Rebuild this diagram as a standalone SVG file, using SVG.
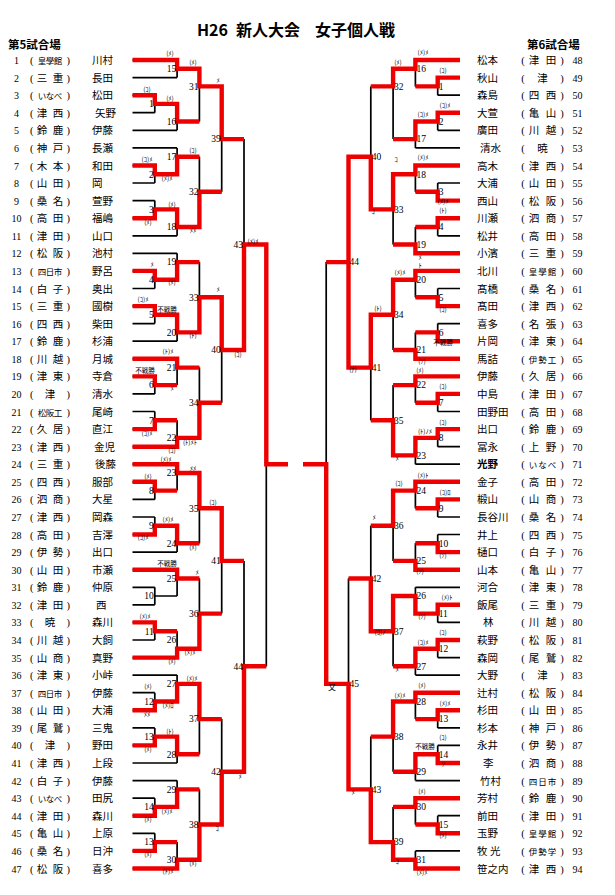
<svg xmlns="http://www.w3.org/2000/svg" width="615" height="895" viewBox="0 0 615 895">
<style>
.bk{fill:none;stroke:#000;stroke-width:1.7}
.rd{fill:none;stroke:#ee0000;stroke-width:4.4;stroke-linejoin:miter}
.t{font-family:"Liberation Serif","Noto Sans CJK JP",serif;font-size:10.5px;fill:#000}
.c{text-anchor:middle}
.s{font-size:8.5px}
.n{font-family:"Liberation Serif",serif;font-size:10px;text-anchor:middle}
.lb{font-family:"Liberation Serif",serif;font-size:9.5px}
.le{text-anchor:end}
.k{font-family:"Noto Sans CJK JP",sans-serif;font-size:6.5px;text-anchor:middle}
.h{font-family:"Noto Sans CJK JP",sans-serif;font-weight:bold}
</style>
<rect width="615" height="895" fill="#fff"/>
<g id="title">
<text class="h" y="36" font-size="16"><tspan x="197">H26</tspan><tspan x="236">新人大会</tspan><tspan x="315">女子個人戦</tspan></text>
<text class="h" x="8" y="49" font-size="11.5">第5試合場</text>
<text class="h" x="527" y="49" font-size="11.5">第6試合場</text>
</g>
<g id="connectors">
<path class="bk" d="M132.5 60H177.1M132.5 77.6H177.1M132.5 95.2H154.8M132.5 112.7H154.8M132.5 130.3H177.1M132.5 147.9H177.1M132.5 165.5H154.8M132.5 183H154.8M132.5 200.6H154.8M132.5 218.2H154.8M132.5 235.8H177.1M132.5 253.3H177.1M132.5 270.9H154.8M132.5 288.5H154.8M132.5 306.1H154.8M132.5 323.6H154.8M132.5 341.2H177.1M132.5 358.8H177.1M132.5 376.4H154.8M132.5 393.9H154.8M132.5 411.5H154.8M132.5 429.1H154.8M132.5 446.7H177.1M132.5 464.2H177.1M132.5 481.8H154.8M132.5 499.4H154.8M132.5 517H154.8M132.5 534.5H154.8M132.5 552.1H177.1M132.5 569.7H177.1M132.5 587.3H154.8M132.5 604.8H154.8M132.5 622.4H154.8M132.5 640H154.8M132.5 657.6H177.1M132.5 675.1H177.1M132.5 692.7H154.8M132.5 710.3H154.8M132.5 727.9H154.8M132.5 745.4H154.8M132.5 763H177.1M132.5 780.6H177.1M132.5 798.2H154.8M132.5 815.7H154.8M132.5 833.3H154.8M132.5 850.9H154.8M132.5 868.5H177.1
M154.8 95.2V112.7M154.8 103.9H177.1M154.8 165.5V183M154.8 174.2H177.1M154.8 200.6V218.2M154.8 209.4H177.1M154.8 270.9V288.5M154.8 279.7H177.1M154.8 306.1V323.6M154.8 314.8H177.1M154.8 376.4V393.9M154.8 385.1H177.1M154.8 411.5V429.1M154.8 420.3H177.1M154.8 481.8V499.4M154.8 490.6H177.1M154.8 517V534.5M154.8 525.7H177.1M154.8 587.3V604.8M154.8 596H177.1M154.8 622.4V640M154.8 631.2H177.1M154.8 692.7V710.3M154.8 701.5H177.1M154.8 727.9V745.4M154.8 736.6H177.1M154.8 798.2V815.7M154.8 806.9H177.1M154.8 833.3V850.9M154.8 842.1H177.1
M177.1 60V77.6M177.1 68.8H199.4M177.1 103.9V130.3M177.1 121.5H199.4M177.1 147.9V174.2M177.1 156.7H199.4M177.1 209.4V235.8M177.1 227H199.4M177.1 253.3V279.7M177.1 262.1H199.4M177.1 314.8V341.2M177.1 332.4H199.4M177.1 358.8V385.1M177.1 367.6H199.4M177.1 420.3V446.7M177.1 437.9H199.4M177.1 464.2V490.6M177.1 473H199.4M177.1 525.7V552.1M177.1 543.3H199.4M177.1 569.7V596M177.1 578.5H199.4M177.1 631.2V657.6M177.1 648.8H199.4M177.1 675.1V701.5M177.1 683.9H199.4M177.1 736.6V763M177.1 754.2H199.4M177.1 780.6V806.9M177.1 789.4H199.4M177.1 842.1V868.5M177.1 859.7H199.4
M199.4 68.8V121.5M199.4 86.4H221.7M199.4 156.7V227M199.4 191.8H221.7M199.4 262.1V332.4M199.4 297.3H221.7M199.4 367.6V437.9M199.4 402.7H221.7M199.4 473V543.3M199.4 508.2H221.7M199.4 578.5V648.8M199.4 613.6H221.7M199.4 683.9V754.2M199.4 719.1H221.7M199.4 789.4V859.7M199.4 824.5H221.7
M221.7 86.4V191.8M221.7 139.1H244M221.7 297.3V402.7M221.7 350H244M221.7 508.2V613.6M221.7 560.9H244M221.7 719.1V824.5M221.7 771.8H244
M244 139.1V350M244 244.5H266.3M244 560.9V771.8M244 666.3H266.3M266.3 244.5V666.3"/>
<path class="bk" d="M460 60H415.4M460 77.6H437.7M460 95.2H437.7M460 112.7H437.7M460 130.3H437.7M460 147.9H415.4M460 165.5H415.4M460 183H437.7M460 200.6H437.7M460 218.2H437.7M460 235.8H437.7M460 253.3H415.4M460 270.9H415.4M460 288.5H437.7M460 306.1H437.7M460 323.6H437.7M460 341.2H437.7M460 358.8H415.4M460 376.4H415.4M460 393.9H437.7M460 411.5H437.7M460 429.1H437.7M460 446.7H437.7M460 464.2H415.4M460 481.8H415.4M460 499.4H437.7M460 517H437.7M460 534.5H437.7M460 552.1H437.7M460 569.7H415.4M460 587.3H415.4M460 604.8H437.7M460 622.4H437.7M460 640H437.7M460 657.6H437.7M460 675.1H415.4M460 692.7H415.4M460 710.3H437.7M460 727.9H437.7M460 745.4H437.7M460 763H437.7M460 780.6H415.4M460 798.2H415.4M460 815.7H437.7M460 833.3H437.7M460 850.9H415.4M460 868.5H415.4
M437.7 77.6V95.2M437.7 86.4H415.4M437.7 112.7V130.3M437.7 121.5H415.4M437.7 183V200.6M437.7 191.8H415.4M437.7 218.2V235.8M437.7 227H415.4M437.7 288.5V306.1M437.7 297.3H415.4M437.7 323.6V341.2M437.7 332.4H415.4M437.7 393.9V411.5M437.7 402.7H415.4M437.7 429.1V446.7M437.7 437.9H415.4M437.7 499.4V517M437.7 508.2H415.4M437.7 534.5V552.1M437.7 543.3H415.4M437.7 604.8V622.4M437.7 613.6H415.4M437.7 640V657.6M437.7 648.8H415.4M437.7 710.3V727.9M437.7 719.1H415.4M437.7 745.4V763M437.7 754.2H415.4M437.7 815.7V833.3M437.7 824.5H415.4
M415.4 60V86.4M415.4 68.8H393.1M415.4 121.5V147.9M415.4 139.1H393.1M415.4 165.5V191.8M415.4 174.2H393.1M415.4 227V253.3M415.4 244.5H393.1M415.4 270.9V297.3M415.4 279.7H393.1M415.4 332.4V358.8M415.4 350H393.1M415.4 376.4V402.7M415.4 385.1H393.1M415.4 437.9V464.2M415.4 455.4H393.1M415.4 481.8V508.2M415.4 490.6H393.1M415.4 543.3V569.7M415.4 560.9H393.1M415.4 587.3V613.6M415.4 596H393.1M415.4 648.8V675.1M415.4 666.3H393.1M415.4 692.7V719.1M415.4 701.5H393.1M415.4 754.2V780.6M415.4 771.8H393.1M415.4 798.2V824.5M415.4 806.9H393.1M415.4 850.9V868.5M415.4 859.7H393.1
M393.1 68.8V139.1M393.1 86.4H370.8M393.1 174.2V244.5M393.1 209.4H370.8M393.1 279.7V350M393.1 314.8H370.8M393.1 385.1V455.4M393.1 420.3H370.8M393.1 490.6V560.9M393.1 525.7H370.8M393.1 596V666.3M393.1 631.2H370.8M393.1 701.5V771.8M393.1 736.6H370.8M393.1 806.9V859.7M393.1 842.1H370.8
M370.8 86.4V209.4M370.8 156.7H348.5M370.8 314.8V420.3M370.8 367.6H348.5M370.8 525.7V631.2M370.8 578.5H348.5M370.8 736.6V842.1M370.8 789.4H348.5
M348.5 156.7V367.6M348.5 262.1H326.2M348.5 578.5V789.4M348.5 683.9H326.2M326.2 262.1V683.9"/>
<path class="rd" d="M132.5 60H177.1V68.8H199.4V86.4H221.7V139.1H244
M132.5 95.2H154.8V103.9H177.1V121.5H199.4
M132.5 165.5H154.8V174.2H177.1V156.7H199.4
M132.5 218.2H154.8V209.4H177.1V227H199.4V191.8H221.7
M132.5 270.9H154.8V279.7H177.1V262.1H199.4
M132.5 306.1H154.8V314.8H177.1V332.4H199.4V297.3H221.7V350H244V244.5H266.3V464.2H288
M132.5 358.8H177.1V367.6H199.4
M132.5 376.4H154.8V385.1H177.1
M132.5 429.1H154.8V420.3H177.1
M132.5 446.7H177.1V437.9H199.4V402.7H221.7
M132.5 464.2H177.1V473H199.4V508.2H221.7V560.9H244
M132.5 481.8H154.8V490.6H177.1
M132.5 534.5H154.8V525.7H177.1V543.3H199.4
M132.5 569.7H177.1V578.5H199.4
M132.5 622.4H154.8V631.2H177.1
M132.5 657.6H177.1V648.8H199.4V613.6H221.7
M132.5 710.3H154.8V701.5H177.1V683.9H199.4V719.1H221.7
M132.5 745.4H154.8V736.6H177.1V754.2H199.4
M132.5 815.7H154.8V806.9H177.1V789.4H199.4
M132.5 850.9H154.8V842.1H177.1
M132.5 868.5H177.1V859.7H199.4V824.5H221.7V771.8H244V666.3H266.3"/>
<path class="rd" d="M460 60H415.4V68.8H393.1V86.4H370.8
M460 77.6H437.7V86.4H415.4
M460 112.7H437.7V121.5H415.4V139.1H393.1
M460 165.5H415.4V174.2H393.1V209.4H370.8V156.7H348.5V262.1
M460 200.6H437.7V191.8H415.4
M460 218.2H437.7V227H415.4
M460 253.3H415.4V244.5H393.1
M460 270.9H415.4V279.7H393.1V314.8H370.8V367.6H348.5V262.1H326.2
M460 306.1H437.7V297.3H415.4
M460 341.2H437.7V332.4H415.4
M460 358.8H415.4V350H393.1
M460 376.4H415.4V385.1H393.1
M460 393.9H437.7V402.7H415.4
M460 429.1H437.7V437.9H415.4V455.4H393.1V420.3H370.8
M460 481.8H415.4V490.6H393.1V525.7H370.8
M460 499.4H437.7V508.2H415.4
M460 552.1H437.7V543.3H415.4
M460 569.7H415.4V560.9H393.1
M460 604.8H437.7V613.6H415.4V596H393.1V631.2H370.8V578.5H348.5
M460 640H437.7V648.8H415.4V666.3H393.1
M460 692.7H415.4V701.5H393.1V736.6H370.8
M460 710.3H437.7V719.1H415.4
M460 763H437.7V754.2H415.4V771.8H393.1
M460 798.2H415.4V806.9H393.1
M460 833.3H437.7V824.5H415.4
M460 868.5H415.4V859.7H393.1V842.1H370.8V789.4H348.5V683.9H326.2V464.2H303"/>
</g>
<g id="match-numbers" class="lb">
<g class="le">
<text x="153.8" y="107.2">1</text><text x="153.8" y="177.5">2</text><text x="153.8" y="212.7">3</text><text x="153.8" y="283">4</text><text x="153.8" y="318.1">5</text><text x="153.8" y="388.4">6</text><text x="153.8" y="423.6">7</text><text x="153.8" y="493.9">8</text><text x="153.8" y="529">9</text><text x="153.8" y="599.3">10</text><text x="153.8" y="634.5">11</text><text x="153.8" y="704.8">12</text><text x="153.8" y="739.9">13</text><text x="153.8" y="810.2">14</text><text x="153.8" y="845.4">13</text>
<text x="176.2" y="72.1">15</text><text x="176.2" y="124.8">16</text><text x="176.2" y="160">17</text><text x="176.2" y="230.3">18</text><text x="176.2" y="265.4">19</text><text x="176.2" y="335.7">20</text><text x="176.2" y="370.9">21</text><text x="176.2" y="441.2">22</text><text x="176.2" y="476.3">23</text><text x="176.2" y="546.6">24</text><text x="176.2" y="581.8">25</text><text x="176.2" y="643.3">26</text><text x="176.2" y="687.2">27</text><text x="176.2" y="757.5">28</text><text x="176.2" y="792.7">29</text><text x="176.2" y="863">30</text>
<text x="198.5" y="89.7">31</text><text x="198.5" y="195.1">32</text><text x="198.5" y="300.6">33</text><text x="198.5" y="406">34</text><text x="198.5" y="511.5">35</text><text x="198.5" y="616.9">36</text><text x="198.5" y="722.4">37</text><text x="198.5" y="827.8">38</text>
<text x="220.8" y="142.4">39</text><text x="220.8" y="353.3">40</text><text x="220.8" y="564.2">41</text><text x="220.8" y="775.1">42</text>
<text x="243.1" y="247.8">43</text><text x="243.1" y="669.6">44</text>
</g>
<text x="438.7" y="89.7">1</text><text x="438.7" y="124.8">2</text><text x="438.7" y="195.1">3</text><text x="438.7" y="230.3">4</text><text x="438.7" y="300.6">5</text><text x="438.7" y="335.7">6</text><text x="438.7" y="406">7</text><text x="438.7" y="441.2">8</text><text x="438.7" y="511.5">9</text><text x="438.7" y="546.6">10</text><text x="438.7" y="616.9">11</text><text x="438.7" y="652.1">12</text><text x="438.7" y="722.4">13</text><text x="438.7" y="757.5">14</text><text x="438.7" y="827.8">15</text>
<text x="416.4" y="72.1">16</text><text x="416.4" y="142.4">17</text><text x="416.4" y="177.5">18</text><text x="416.4" y="247.8">19</text><text x="416.4" y="283">20</text><text x="416.4" y="353.3">21</text><text x="416.4" y="388.4">22</text><text x="416.4" y="458.7">23</text><text x="416.4" y="493.9">24</text><text x="416.4" y="564.2">25</text><text x="416.4" y="599.3">26</text><text x="416.4" y="669.6">27</text><text x="416.4" y="704.8">28</text><text x="416.4" y="775.1">29</text><text x="416.4" y="810.2">30</text><text x="416.4" y="863">31</text>
<text x="394.1" y="89.7">32</text><text x="394.1" y="212.7">33</text><text x="394.1" y="318.1">34</text><text x="394.1" y="423.6">35</text><text x="394.1" y="529">36</text><text x="394.1" y="634.5">37</text><text x="394.1" y="739.9">38</text><text x="394.1" y="845.4">39</text>
<text x="371.8" y="160">40</text><text x="371.8" y="370.9">41</text><text x="371.8" y="581.8">42</text><text x="371.8" y="792.7">43</text>
<text x="349.5" y="265.4">44</text><text x="349.5" y="687.2">45</text>
</g>
<g id="marks" class="k">
<text x="170" y="56">(ﾒ)</text><text x="147" y="92">(ｺ)</text><text x="170" y="101">(ﾒ)</text><text x="193" y="65">(ﾒ)</text><text x="218" y="83">ﾒ</text><text x="193" y="153">(ｺ)</text><text x="147" y="162">(ｺ)ﾒ</text><text x="167" y="181">(ﾒ)ﾒ</text><text x="172" y="207">(ﾒ)</text><text x="148" y="225">(ﾒ)</text><text x="193" y="233">ﾒﾒ</text><text x="253" y="244">(ﾒ)ﾒ</text><text x="152" y="267">ﾒ</text><text x="172" y="285">(ﾒ)</text><text x="218" y="292">ﾒ</text><text x="143" y="302">(ｺ)ﾒ</text><text x="167" y="312">不戦勝</text><text x="193" y="338">(ﾄ)</text><text x="238" y="357">(ｺ)</text><text x="168" y="354">(ﾄ)ﾒ</text><text x="145" y="373">不戦勝</text><text x="172" y="391">ﾒ</text><text x="147" y="436">(ｺ)ﾒ</text><text x="190" y="444.5">(ﾄ)ﾒﾄ</text><text x="172" y="453">(ｺ)</text><text x="166" y="462">(ﾒ)ﾒ</text><text x="193" y="471">ﾒﾒ</text><text x="148" y="479">(ﾒ)</text><text x="213" y="505">(ｺ)</text><text x="168" y="522">(ﾒ)ﾒ</text><text x="143" y="540">(ｺ)ﾒ</text><text x="193" y="550">(ﾒ)</text><text x="167" y="566">不戦勝</text><text x="197" y="575">ﾒ</text><text x="145" y="619">(ﾒ)ﾒ</text><text x="190" y="655">(ﾒ)ﾒ</text><text x="172" y="664">(ﾒ)</text><text x="192" y="681">(ﾒ)ﾒ</text><text x="148" y="689">(ﾒ)</text><text x="168" y="708">(ﾒ)ﾛ</text><text x="147" y="717">ﾒﾒ</text><text x="170" y="734">(ﾄ)</text><text x="148" y="752">(ﾒ)</text><text x="240" y="779">ﾒ</text><text x="167" y="814">(ﾒ)ﾒ</text><text x="148" y="822">(ﾒ)</text><text x="217" y="831">ｺ</text><text x="148" y="857">(ﾒ)</text><text x="193" y="866">(ﾒ)</text><text x="168" y="874">(ﾄ)ﾒ</text>
<text x="423" y="55">(ﾒ)ﾒ</text><text x="398" y="65">(ﾒ)</text><text x="443" y="73">(ｺ)</text><text x="445" y="108">(ｺ)ﾒ</text><text x="423" y="117">(ｺ)ﾒ</text><text x="423" y="160">(ﾒ)ﾒ</text><text x="396" y="162">ｺ</text><text x="443" y="203.5">(ﾒ)ﾒ</text><text x="443" y="212.5">(ﾄ)</text><text x="373" y="214">ｺ</text><text x="420" y="259.5">ﾒ</text><text x="420" y="268">ﾄ</text><text x="400" y="275">(ﾒ)ﾒ</text><text x="378" y="311">(ﾄ)</text><text x="443" y="312">(ｺ)</text><text x="443" y="345">不戦勝</text><text x="422" y="363.5">(ｿ)</text><text x="420" y="373">(ﾒ)</text><text x="353" y="372">(ﾅ)</text><text x="443" y="389">(ｺ)</text><text x="443" y="425">(ｺ)</text><text x="425" y="434">(ﾄ)ﾉﾒ</text><text x="397" y="461">ﾒ</text><text x="423" y="478">(ﾒ)ﾄ</text><text x="399" y="486">(ｺ)</text><text x="445" y="495">(ｺ)ﾛ</text><text x="374" y="520">ﾒ</text><text x="443" y="558">(ｿ)</text><text x="420" y="574">(ｿ)</text><text x="447" y="600">(ﾒ)ﾄ</text><text x="422" y="619">(ｿ)</text><text x="380" y="635">(ｺ)ﾉ</text><text x="443" y="635">(ｺ)</text><text x="423" y="645">(ｺ)ﾒ</text><text x="397" y="672">ﾒ</text><text x="332" y="690" font-size="8">又</text><text x="422" y="688">(ﾒ)</text><text x="400" y="698">(ﾒ)ﾒ</text><text x="445" y="706">(ﾒ)ﾒ</text><text x="443" y="740">(ｺ)</text><text x="425" y="749">不戦勝</text><text x="443" y="767">ｿ</text><text x="422" y="794">(ﾒ)</text><text x="353" y="795">ﾒ</text><text x="443" y="838">(ﾒ)</text><text x="397" y="864">ｺ</text><text x="422" y="875">(ﾒ)ﾒ</text>
</g>
<g id="left-players">
<g id="p1" transform="translate(0,60)"><text class="n" x="16.5" y="4">1</text><text class="t c" y="4"><tspan x="31.7">(</tspan><tspan class="s" x="42 50 58">皇學館</tspan><tspan x="68.3">)</tspan></text><text class="t" x="92" y="4">川村</text></g>
<g id="p2" transform="translate(0,77.6)"><text class="n" x="16.5" y="4">2</text><text class="t c" y="4"><tspan x="31.7">(</tspan><tspan x="42 58">三重</tspan><tspan x="68.3">)</tspan></text><text class="t" x="92" y="4">長田</text></g>
<g id="p3" transform="translate(0,95.2)"><text class="n" x="16.5" y="4">3</text><text class="t c" y="4"><tspan x="31.7">(</tspan><tspan class="s" x="42 50 58">いなべ</tspan><tspan x="68.3">)</tspan></text><text class="t" x="92" y="4">松田</text></g>
<g id="p4" transform="translate(0,112.7)"><text class="n" x="16.5" y="4">4</text><text class="t c" y="4"><tspan x="31.7">(</tspan><tspan x="42 58">津西</tspan><tspan x="68.3">)</tspan></text><text class="t" x="95" y="4">矢野</text></g>
<g id="p5" transform="translate(0,130.3)"><text class="n" x="16.5" y="4">5</text><text class="t c" y="4"><tspan x="31.7">(</tspan><tspan x="42 58">鈴鹿</tspan><tspan x="68.3">)</tspan></text><text class="t" x="92" y="4">伊藤</text></g>
<g id="p6" transform="translate(0,147.9)"><text class="n" x="16.5" y="4">6</text><text class="t c" y="4"><tspan x="31.7">(</tspan><tspan x="42 58">神戸</tspan><tspan x="68.3">)</tspan></text><text class="t" x="92" y="4">長瀬</text></g>
<g id="p7" transform="translate(0,165.5)"><text class="n" x="16.5" y="4">7</text><text class="t c" y="4"><tspan x="31.7">(</tspan><tspan x="42 58">木本</tspan><tspan x="68.3">)</tspan></text><text class="t" x="92" y="4">和田</text></g>
<g id="p8" transform="translate(0,183)"><text class="n" x="16.5" y="4">8</text><text class="t c" y="4"><tspan x="31.7">(</tspan><tspan x="42 58">山田</tspan><tspan x="68.3">)</tspan></text><text class="t" x="92" y="4">岡</text></g>
<g id="p9" transform="translate(0,200.6)"><text class="n" x="16.5" y="4">9</text><text class="t c" y="4"><tspan x="31.7">(</tspan><tspan x="42 58">桑名</tspan><tspan x="68.3">)</tspan></text><text class="t" x="92" y="4">萱野</text></g>
<g id="p10" transform="translate(0,218.2)"><text class="n" x="16.5" y="4">10</text><text class="t c" y="4"><tspan x="31.7">(</tspan><tspan x="42 58">高田</tspan><tspan x="68.3">)</tspan></text><text class="t" x="92" y="4">福嶋</text></g>
<g id="p11" transform="translate(0,235.8)"><text class="n" x="16.5" y="4">11</text><text class="t c" y="4"><tspan x="31.7">(</tspan><tspan x="42 58">津田</tspan><tspan x="68.3">)</tspan></text><text class="t" x="92" y="4">山口</text></g>
<g id="p12" transform="translate(0,253.3)"><text class="n" x="16.5" y="4">12</text><text class="t c" y="4"><tspan x="31.7">(</tspan><tspan x="42 58">松阪</tspan><tspan x="68.3">)</tspan></text><text class="t" x="92" y="4">池村</text></g>
<g id="p13" transform="translate(0,270.9)"><text class="n" x="16.5" y="4">13</text><text class="t c" y="4"><tspan x="31.7">(</tspan><tspan class="s" x="42 50 58">四日市</tspan><tspan x="68.3">)</tspan></text><text class="t" x="92" y="4">野呂</text></g>
<g id="p14" transform="translate(0,288.5)"><text class="n" x="16.5" y="4">14</text><text class="t c" y="4"><tspan x="31.7">(</tspan><tspan x="42 58">白子</tspan><tspan x="68.3">)</tspan></text><text class="t" x="92" y="4">奥出</text></g>
<g id="p15" transform="translate(0,306.1)"><text class="n" x="16.5" y="4">15</text><text class="t c" y="4"><tspan x="31.7">(</tspan><tspan x="42 58">三重</tspan><tspan x="68.3">)</tspan></text><text class="t" x="92" y="4">國樹</text></g>
<g id="p16" transform="translate(0,323.6)"><text class="n" x="16.5" y="4">16</text><text class="t c" y="4"><tspan x="31.7">(</tspan><tspan x="42 58">四西</tspan><tspan x="68.3">)</tspan></text><text class="t" x="92" y="4">柴田</text></g>
<g id="p17" transform="translate(0,341.2)"><text class="n" x="16.5" y="4">17</text><text class="t c" y="4"><tspan x="31.7">(</tspan><tspan x="42 58">鈴鹿</tspan><tspan x="68.3">)</tspan></text><text class="t" x="92" y="4">杉浦</text></g>
<g id="p18" transform="translate(0,358.8)"><text class="n" x="16.5" y="4">18</text><text class="t c" y="4"><tspan x="31.7">(</tspan><tspan x="42 58">川越</tspan><tspan x="68.3">)</tspan></text><text class="t" x="92" y="4">月城</text></g>
<g id="p19" transform="translate(0,376.4)"><text class="n" x="16.5" y="4">19</text><text class="t c" y="4"><tspan x="31.7">(</tspan><tspan x="42 58">津東</tspan><tspan x="68.3">)</tspan></text><text class="t" x="92" y="4">寺倉</text></g>
<g id="p20" transform="translate(0,393.9)"><text class="n" x="16.5" y="4">20</text><text class="t c" y="4"><tspan x="31.7">(</tspan><tspan x="50">津</tspan><tspan x="68.3">)</tspan></text><text class="t" x="92" y="4">清水</text></g>
<g id="p21" transform="translate(0,411.5)"><text class="n" x="16.5" y="4">21</text><text class="t c" y="4"><tspan x="31.7">(</tspan><tspan class="s" x="42 50 58">松阪工</tspan><tspan x="68.3">)</tspan></text><text class="t" x="92" y="4">尾崎</text></g>
<g id="p22" transform="translate(0,429.1)"><text class="n" x="16.5" y="4">22</text><text class="t c" y="4"><tspan x="31.7">(</tspan><tspan x="42 58">久居</tspan><tspan x="68.3">)</tspan></text><text class="t" x="92" y="4">直江</text></g>
<g id="p23" transform="translate(0,446.7)"><text class="n" x="16.5" y="4">23</text><text class="t c" y="4"><tspan x="31.7">(</tspan><tspan x="42 58">津西</tspan><tspan x="68.3">)</tspan></text><text class="t" x="94" y="4">金児</text></g>
<g id="p24" transform="translate(0,464.2)"><text class="n" x="16.5" y="4">24</text><text class="t c" y="4"><tspan x="31.7">(</tspan><tspan x="42 58">三重</tspan><tspan x="68.3">)</tspan></text><text class="t" x="95" y="4">後藤</text></g>
<g id="p25" transform="translate(0,481.8)"><text class="n" x="16.5" y="4">25</text><text class="t c" y="4"><tspan x="31.7">(</tspan><tspan x="42 58">四西</tspan><tspan x="68.3">)</tspan></text><text class="t" x="92" y="4">服部</text></g>
<g id="p26" transform="translate(0,499.4)"><text class="n" x="16.5" y="4">26</text><text class="t c" y="4"><tspan x="31.7">(</tspan><tspan x="42 58">泗商</tspan><tspan x="68.3">)</tspan></text><text class="t" x="92" y="4">大星</text></g>
<g id="p27" transform="translate(0,517)"><text class="n" x="16.5" y="4">27</text><text class="t c" y="4"><tspan x="31.7">(</tspan><tspan x="42 58">津西</tspan><tspan x="68.3">)</tspan></text><text class="t" x="92" y="4">岡森</text></g>
<g id="p28" transform="translate(0,534.5)"><text class="n" x="16.5" y="4">28</text><text class="t c" y="4"><tspan x="31.7">(</tspan><tspan x="42 58">高田</tspan><tspan x="68.3">)</tspan></text><text class="t" x="92" y="4">吉澤</text></g>
<g id="p29" transform="translate(0,552.1)"><text class="n" x="16.5" y="4">29</text><text class="t c" y="4"><tspan x="31.7">(</tspan><tspan x="42 58">伊勢</tspan><tspan x="68.3">)</tspan></text><text class="t" x="92" y="4">出口</text></g>
<g id="p30" transform="translate(0,569.7)"><text class="n" x="16.5" y="4">30</text><text class="t c" y="4"><tspan x="31.7">(</tspan><tspan x="42 58">山田</tspan><tspan x="68.3">)</tspan></text><text class="t" x="92" y="4">市瀬</text></g>
<g id="p31" transform="translate(0,587.3)"><text class="n" x="16.5" y="4">31</text><text class="t c" y="4"><tspan x="31.7">(</tspan><tspan x="42 58">鈴鹿</tspan><tspan x="68.3">)</tspan></text><text class="t" x="92" y="4">仲原</text></g>
<g id="p32" transform="translate(0,604.8)"><text class="n" x="16.5" y="4">32</text><text class="t c" y="4"><tspan x="31.7">(</tspan><tspan x="42 58">津田</tspan><tspan x="68.3">)</tspan></text><text class="t" x="96" y="4">西</text></g>
<g id="p33" transform="translate(0,622.4)"><text class="n" x="16.5" y="4">33</text><text class="t c" y="4"><tspan x="31.7">(</tspan><tspan x="50">暁</tspan><tspan x="68.3">)</tspan></text><text class="t" x="92" y="4">森川</text></g>
<g id="p34" transform="translate(0,640)"><text class="n" x="16.5" y="4">34</text><text class="t c" y="4"><tspan x="31.7">(</tspan><tspan x="42 58">川越</tspan><tspan x="68.3">)</tspan></text><text class="t" x="92" y="4">大飼</text></g>
<g id="p35" transform="translate(0,657.6)"><text class="n" x="16.5" y="4">35</text><text class="t c" y="4"><tspan x="31.7">(</tspan><tspan x="42 58">山商</tspan><tspan x="68.3">)</tspan></text><text class="t" x="92" y="4">真野</text></g>
<g id="p36" transform="translate(0,675.1)"><text class="n" x="16.5" y="4">36</text><text class="t c" y="4"><tspan x="31.7">(</tspan><tspan x="42 58">津東</tspan><tspan x="68.3">)</tspan></text><text class="t" x="92" y="4">小峠</text></g>
<g id="p37" transform="translate(0,692.7)"><text class="n" x="16.5" y="4">37</text><text class="t c" y="4"><tspan x="31.7">(</tspan><tspan class="s" x="42 50 58">四日市</tspan><tspan x="68.3">)</tspan></text><text class="t" x="92" y="4">伊藤</text></g>
<g id="p38" transform="translate(0,710.3)"><text class="n" x="16.5" y="4">38</text><text class="t c" y="4"><tspan x="31.7">(</tspan><tspan x="42 58">山田</tspan><tspan x="68.3">)</tspan></text><text class="t" x="92" y="4">大浦</text></g>
<g id="p39" transform="translate(0,727.9)"><text class="n" x="16.5" y="4">39</text><text class="t c" y="4"><tspan x="31.7">(</tspan><tspan x="42 58">尾鷲</tspan><tspan x="68.3">)</tspan></text><text class="t" x="92" y="4">三鬼</text></g>
<g id="p40" transform="translate(0,745.4)"><text class="n" x="16.5" y="4">40</text><text class="t c" y="4"><tspan x="31.7">(</tspan><tspan x="50">津</tspan><tspan x="68.3">)</tspan></text><text class="t" x="92" y="4">野田</text></g>
<g id="p41" transform="translate(0,763)"><text class="n" x="16.5" y="4">41</text><text class="t c" y="4"><tspan x="31.7">(</tspan><tspan x="42 58">津西</tspan><tspan x="68.3">)</tspan></text><text class="t" x="92" y="4">上段</text></g>
<g id="p42" transform="translate(0,780.6)"><text class="n" x="16.5" y="4">42</text><text class="t c" y="4"><tspan x="31.7">(</tspan><tspan x="42 58">白子</tspan><tspan x="68.3">)</tspan></text><text class="t" x="92" y="4">伊藤</text></g>
<g id="p43" transform="translate(0,798.2)"><text class="n" x="16.5" y="4">43</text><text class="t c" y="4"><tspan x="31.7">(</tspan><tspan class="s" x="42 50 58">いなべ</tspan><tspan x="68.3">)</tspan></text><text class="t" x="92" y="4">田尻</text></g>
<g id="p44" transform="translate(0,815.7)"><text class="n" x="16.5" y="4">44</text><text class="t c" y="4"><tspan x="31.7">(</tspan><tspan x="42 58">津田</tspan><tspan x="68.3">)</tspan></text><text class="t" x="92" y="4">森川</text></g>
<g id="p45" transform="translate(0,833.3)"><text class="n" x="16.5" y="4">45</text><text class="t c" y="4"><tspan x="31.7">(</tspan><tspan x="42 58">亀山</tspan><tspan x="68.3">)</tspan></text><text class="t" x="92" y="4">上原</text></g>
<g id="p46" transform="translate(0,850.9)"><text class="n" x="16.5" y="4">46</text><text class="t c" y="4"><tspan x="31.7">(</tspan><tspan x="42 58">桑名</tspan><tspan x="68.3">)</tspan></text><text class="t" x="92" y="4">日沖</text></g>
<g id="p47" transform="translate(0,868.5)"><text class="n" x="16.5" y="4">47</text><text class="t c" y="4"><tspan x="31.7">(</tspan><tspan x="42 58">松阪</tspan><tspan x="68.3">)</tspan></text><text class="t" x="92" y="4">喜多</text></g>
</g>
<g id="right-players">
<g id="p48" transform="translate(0,60)"><text class="t" x="477" y="4">松本</text><text class="t c" y="4"><tspan x="523">(</tspan><tspan x="534 551">津田</tspan><tspan x="562">)</tspan></text><text class="n" x="577.5" y="4">48</text></g>
<g id="p49" transform="translate(0,77.6)"><text class="t" x="477" y="4">秋山</text><text class="t c" y="4"><tspan x="523">(</tspan><tspan x="542.5">津</tspan><tspan x="562">)</tspan></text><text class="n" x="577.5" y="4">49</text></g>
<g id="p50" transform="translate(0,95.2)"><text class="t" x="477" y="4">森島</text><text class="t c" y="4"><tspan x="523">(</tspan><tspan x="534 551">四西</tspan><tspan x="562">)</tspan></text><text class="n" x="577.5" y="4">50</text></g>
<g id="p51" transform="translate(0,112.7)"><text class="t" x="477" y="4">大萱</text><text class="t c" y="4"><tspan x="523">(</tspan><tspan x="534 551">亀山</tspan><tspan x="562">)</tspan></text><text class="n" x="577.5" y="4">51</text></g>
<g id="p52" transform="translate(0,130.3)"><text class="t" x="477" y="4">廣田</text><text class="t c" y="4"><tspan x="523">(</tspan><tspan x="534 551">川越</tspan><tspan x="562">)</tspan></text><text class="n" x="577.5" y="4">52</text></g>
<g id="p53" transform="translate(0,147.9)"><text class="t" x="480" y="4">清水</text><text class="t c" y="4"><tspan x="523">(</tspan><tspan x="542.5">暁</tspan><tspan x="562">)</tspan></text><text class="n" x="577.5" y="4">53</text></g>
<g id="p54" transform="translate(0,165.5)"><text class="t" x="477" y="4">高木</text><text class="t c" y="4"><tspan x="523">(</tspan><tspan x="534 551">津西</tspan><tspan x="562">)</tspan></text><text class="n" x="577.5" y="4">54</text></g>
<g id="p55" transform="translate(0,183)"><text class="t" x="477" y="4">大浦</text><text class="t c" y="4"><tspan x="523">(</tspan><tspan x="534 551">山田</tspan><tspan x="562">)</tspan></text><text class="n" x="577.5" y="4">55</text></g>
<g id="p56" transform="translate(0,200.6)"><text class="t" x="477" y="4">西山</text><text class="t c" y="4"><tspan x="523">(</tspan><tspan x="534 551">松阪</tspan><tspan x="562">)</tspan></text><text class="n" x="577.5" y="4">56</text></g>
<g id="p57" transform="translate(0,218.2)"><text class="t" x="477" y="4">川瀬</text><text class="t c" y="4"><tspan x="523">(</tspan><tspan x="534 551">泗商</tspan><tspan x="562">)</tspan></text><text class="n" x="577.5" y="4">57</text></g>
<g id="p58" transform="translate(0,235.8)"><text class="t" x="477" y="4">松井</text><text class="t c" y="4"><tspan x="523">(</tspan><tspan x="534 551">高田</tspan><tspan x="562">)</tspan></text><text class="n" x="577.5" y="4">58</text></g>
<g id="p59" transform="translate(0,253.3)"><text class="t" x="477" y="4">小濱</text><text class="t c" y="4"><tspan x="523">(</tspan><tspan x="534 551">三重</tspan><tspan x="562">)</tspan></text><text class="n" x="577.5" y="4">59</text></g>
<g id="p60" transform="translate(0,270.9)"><text class="t" x="477" y="4">北川</text><text class="t c" y="4"><tspan x="523">(</tspan><tspan class="s" x="533 542.5 552">皇學館</tspan><tspan x="562">)</tspan></text><text class="n" x="577.5" y="4">60</text></g>
<g id="p61" transform="translate(0,288.5)"><text class="t" x="477" y="4">髙橋</text><text class="t c" y="4"><tspan x="523">(</tspan><tspan x="534 551">桑名</tspan><tspan x="562">)</tspan></text><text class="n" x="577.5" y="4">61</text></g>
<g id="p62" transform="translate(0,306.1)"><text class="t" x="477" y="4">髙田</text><text class="t c" y="4"><tspan x="523">(</tspan><tspan x="534 551">津西</tspan><tspan x="562">)</tspan></text><text class="n" x="577.5" y="4">62</text></g>
<g id="p63" transform="translate(0,323.6)"><text class="t" x="477" y="4">喜多</text><text class="t c" y="4"><tspan x="523">(</tspan><tspan x="534 551">名張</tspan><tspan x="562">)</tspan></text><text class="n" x="577.5" y="4">63</text></g>
<g id="p64" transform="translate(0,341.2)"><text class="t" x="477" y="4">片岡</text><text class="t c" y="4"><tspan x="523">(</tspan><tspan x="534 551">津東</tspan><tspan x="562">)</tspan></text><text class="n" x="577.5" y="4">64</text></g>
<g id="p65" transform="translate(0,358.8)"><text class="t" x="477" y="4">馬詰</text><text class="t c" y="4"><tspan x="523">(</tspan><tspan class="s" x="533 542.5 552">伊勢工</tspan><tspan x="562">)</tspan></text><text class="n" x="577.5" y="4">65</text></g>
<g id="p66" transform="translate(0,376.4)"><text class="t" x="477" y="4">伊藤</text><text class="t c" y="4"><tspan x="523">(</tspan><tspan x="534 551">久居</tspan><tspan x="562">)</tspan></text><text class="n" x="577.5" y="4">66</text></g>
<g id="p67" transform="translate(0,393.9)"><text class="t" x="477" y="4">中島</text><text class="t c" y="4"><tspan x="523">(</tspan><tspan x="534 551">津田</tspan><tspan x="562">)</tspan></text><text class="n" x="577.5" y="4">67</text></g>
<g id="p68" transform="translate(0,411.5)"><text class="t" x="477" y="4">田野田</text><text class="t c" y="4"><tspan x="523">(</tspan><tspan x="534 551">高田</tspan><tspan x="562">)</tspan></text><text class="n" x="577.5" y="4">68</text></g>
<g id="p69" transform="translate(0,429.1)"><text class="t" x="477" y="4">出口</text><text class="t c" y="4"><tspan x="523">(</tspan><tspan x="534 551">鈴鹿</tspan><tspan x="562">)</tspan></text><text class="n" x="577.5" y="4">69</text></g>
<g id="p70" transform="translate(0,446.7)"><text class="t" x="477" y="4">冨永</text><text class="t c" y="4"><tspan x="523">(</tspan><tspan x="534 551">上野</tspan><tspan x="562">)</tspan></text><text class="n" x="577.5" y="4">70</text></g>
<g id="p71" transform="translate(0,464.2)"><text class="t" x="477" y="4" font-weight="bold">光野</text><text class="t c" y="4"><tspan x="523">(</tspan><tspan class="s" x="533 542.5 552">いなべ</tspan><tspan x="562">)</tspan></text><text class="n" x="577.5" y="4">71</text></g>
<g id="p72" transform="translate(0,481.8)"><text class="t" x="477" y="4">金子</text><text class="t c" y="4"><tspan x="523">(</tspan><tspan x="534 551">高田</tspan><tspan x="562">)</tspan></text><text class="n" x="577.5" y="4">72</text></g>
<g id="p73" transform="translate(0,499.4)"><text class="t" x="477" y="4">椴山</text><text class="t c" y="4"><tspan x="523">(</tspan><tspan x="534 551">山商</tspan><tspan x="562">)</tspan></text><text class="n" x="577.5" y="4">73</text></g>
<g id="p74" transform="translate(0,517)"><text class="t" x="477" y="4">長谷川</text><text class="t c" y="4"><tspan x="523">(</tspan><tspan x="534 551">桑名</tspan><tspan x="562">)</tspan></text><text class="n" x="577.5" y="4">74</text></g>
<g id="p75" transform="translate(0,534.5)"><text class="t" x="477" y="4">井上</text><text class="t c" y="4"><tspan x="523">(</tspan><tspan x="534 551">四西</tspan><tspan x="562">)</tspan></text><text class="n" x="577.5" y="4">75</text></g>
<g id="p76" transform="translate(0,552.1)"><text class="t" x="477" y="4">樋口</text><text class="t c" y="4"><tspan x="523">(</tspan><tspan x="534 551">白子</tspan><tspan x="562">)</tspan></text><text class="n" x="577.5" y="4">76</text></g>
<g id="p77" transform="translate(0,569.7)"><text class="t" x="477" y="4">山本</text><text class="t c" y="4"><tspan x="523">(</tspan><tspan x="534 551">亀山</tspan><tspan x="562">)</tspan></text><text class="n" x="577.5" y="4">77</text></g>
<g id="p78" transform="translate(0,587.3)"><text class="t" x="477" y="4">河合</text><text class="t c" y="4"><tspan x="523">(</tspan><tspan x="534 551">津東</tspan><tspan x="562">)</tspan></text><text class="n" x="577.5" y="4">78</text></g>
<g id="p79" transform="translate(0,604.8)"><text class="t" x="477" y="4">飯尾</text><text class="t c" y="4"><tspan x="523">(</tspan><tspan x="534 551">三重</tspan><tspan x="562">)</tspan></text><text class="n" x="577.5" y="4">79</text></g>
<g id="p80" transform="translate(0,622.4)"><text class="t" x="483" y="4">林</text><text class="t c" y="4"><tspan x="523">(</tspan><tspan x="534 551">川越</tspan><tspan x="562">)</tspan></text><text class="n" x="577.5" y="4">80</text></g>
<g id="p81" transform="translate(0,640)"><text class="t" x="477" y="4">萩野</text><text class="t c" y="4"><tspan x="523">(</tspan><tspan x="534 551">松阪</tspan><tspan x="562">)</tspan></text><text class="n" x="577.5" y="4">81</text></g>
<g id="p82" transform="translate(0,657.6)"><text class="t" x="477" y="4">森岡</text><text class="t c" y="4"><tspan x="523">(</tspan><tspan x="534 551">尾鷲</tspan><tspan x="562">)</tspan></text><text class="n" x="577.5" y="4">82</text></g>
<g id="p83" transform="translate(0,675.1)"><text class="t" x="477" y="4">大野</text><text class="t c" y="4"><tspan x="523">(</tspan><tspan x="542.5">津</tspan><tspan x="562">)</tspan></text><text class="n" x="577.5" y="4">83</text></g>
<g id="p84" transform="translate(0,692.7)"><text class="t" x="477" y="4">辻村</text><text class="t c" y="4"><tspan x="523">(</tspan><tspan x="534 551">松阪</tspan><tspan x="562">)</tspan></text><text class="n" x="577.5" y="4">84</text></g>
<g id="p85" transform="translate(0,710.3)"><text class="t" x="477" y="4">杉田</text><text class="t c" y="4"><tspan x="523">(</tspan><tspan x="534 551">山田</tspan><tspan x="562">)</tspan></text><text class="n" x="577.5" y="4">85</text></g>
<g id="p86" transform="translate(0,727.9)"><text class="t" x="477" y="4">杉本</text><text class="t c" y="4"><tspan x="523">(</tspan><tspan x="534 551">神戸</tspan><tspan x="562">)</tspan></text><text class="n" x="577.5" y="4">86</text></g>
<g id="p87" transform="translate(0,745.4)"><text class="t" x="477" y="4">永井</text><text class="t c" y="4"><tspan x="523">(</tspan><tspan x="534 551">伊勢</tspan><tspan x="562">)</tspan></text><text class="n" x="577.5" y="4">87</text></g>
<g id="p88" transform="translate(0,763)"><text class="t" x="483" y="4">李</text><text class="t c" y="4"><tspan x="523">(</tspan><tspan x="534 551">泗商</tspan><tspan x="562">)</tspan></text><text class="n" x="577.5" y="4">88</text></g>
<g id="p89" transform="translate(0,780.6)"><text class="t" x="480" y="4">竹村</text><text class="t c" y="4"><tspan x="523">(</tspan><tspan class="s" x="533 542.5 552">四日市</tspan><tspan x="562">)</tspan></text><text class="n" x="577.5" y="4">89</text></g>
<g id="p90" transform="translate(0,798.2)"><text class="t" x="477" y="4">芳村</text><text class="t c" y="4"><tspan x="523">(</tspan><tspan x="534 551">鈴鹿</tspan><tspan x="562">)</tspan></text><text class="n" x="577.5" y="4">90</text></g>
<g id="p91" transform="translate(0,815.7)"><text class="t" x="477" y="4">前田</text><text class="t c" y="4"><tspan x="523">(</tspan><tspan x="534 551">津田</tspan><tspan x="562">)</tspan></text><text class="n" x="577.5" y="4">91</text></g>
<g id="p92" transform="translate(0,833.3)"><text class="t" x="477" y="4">玉野</text><text class="t c" y="4"><tspan x="523">(</tspan><tspan class="s" x="533 542.5 552">皇學館</tspan><tspan x="562">)</tspan></text><text class="n" x="577.5" y="4">92</text></g>
<g id="p93" transform="translate(0,850.9)"><text class="t" x="477" y="4">牧 光</text><text class="t c" y="4"><tspan x="523">(</tspan><tspan class="s" x="533 542.5 552">伊勢学</tspan><tspan x="562">)</tspan></text><text class="n" x="577.5" y="4">93</text></g>
<g id="p94" transform="translate(0,868.5)"><text class="t" x="477" y="4">笹之内</text><text class="t c" y="4"><tspan x="523">(</tspan><tspan x="534 551">津西</tspan><tspan x="562">)</tspan></text><text class="n" x="577.5" y="4">94</text></g>
</g>
</svg>
